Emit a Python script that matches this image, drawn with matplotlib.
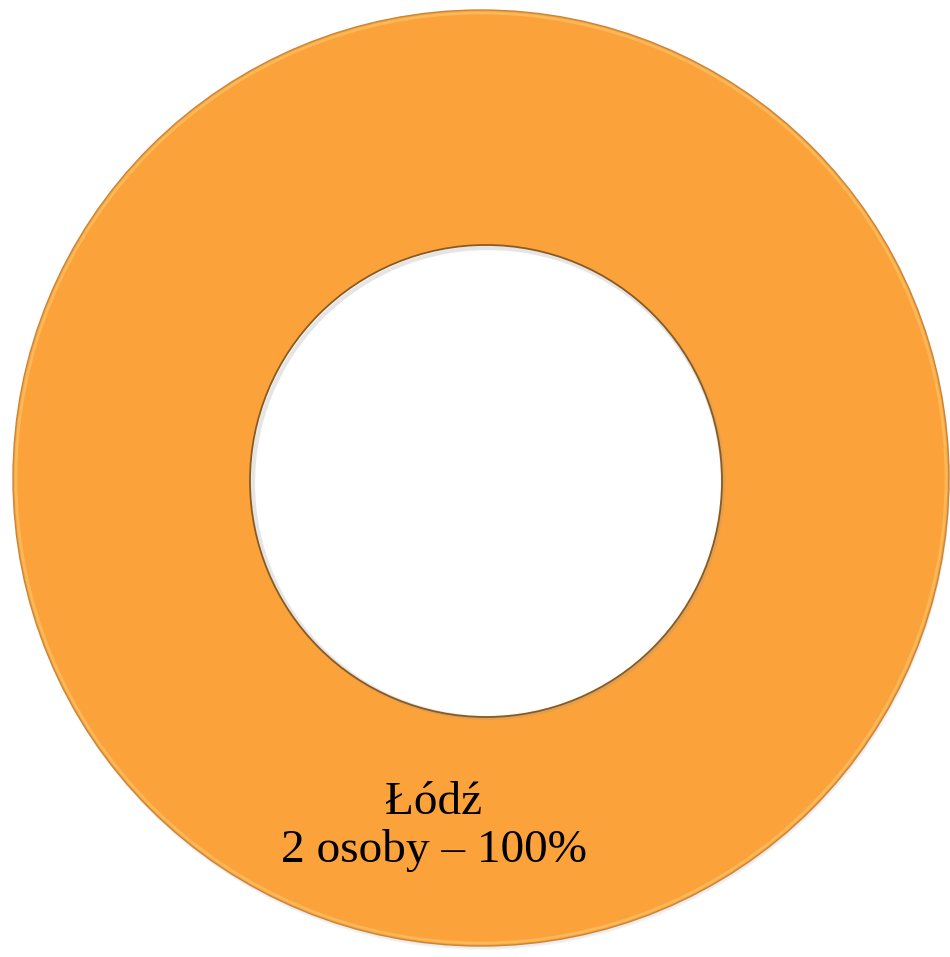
import matplotlib
matplotlib.use("Agg")
import matplotlib.pyplot as plt
from matplotlib.patches import Circle

categories = ["Łódź"]
counts = [2]
percents = [100]

W, H = 950, 957
fig = plt.figure(figsize=(W / 100, H / 100), dpi=100)
ax = fig.add_axes([0, 0, 1, 1])
ax.set_xlim(0, W)
ax.set_ylim(H, 0)
ax.set_aspect("equal")
ax.axis("off")

cx, cy, R = 481, 478, 468
r_in = 230
width = R - r_in
hx, hy, hr = 486, 481, 236  # visible hole

# soft shadow beneath
for i, a in enumerate([0.05, 0.05, 0.06]):
    off = 2 + i
    ax.pie(counts, radius=R, center=(cx + off * 0.3, cy + off), colors=["#7a7a7a"],
           wedgeprops=dict(width=width, linewidth=0, alpha=a), startangle=90)

wedges, _ = ax.pie(counts, radius=R, center=(cx, cy), colors=["#FBA23A"],
                   wedgeprops=dict(width=width, linewidth=0), startangle=90)
ax.add_patch(Circle((cx, cy), R, facecolor="none", edgecolor="#C9853A",
                    linewidth=1.0, zorder=4))

# hole with inner shadow (top-left)
ax.add_patch(Circle((hx, hy), hr, facecolor="white", edgecolor="none", zorder=3))
ax.add_patch(Circle((hx + 2, hy + 2), hr - 1, facecolor="none", edgecolor="#9a9a9a",
                    linewidth=3, alpha=0.25, zorder=3.1))
ax.add_patch(Circle((hx, hy), hr, facecolor="none", edgecolor="#8A5A20",
                    linewidth=1.3, zorder=4))
# top highlight
ax.add_patch(Circle((cx, cy), R - 3, facecolor="none", edgecolor="#FFD27A",
                    linewidth=2, alpha=0.45, zorder=4))

ax.set_xlim(0, W)
ax.set_ylim(H, 0)

label = f"{categories[0]}\n{counts[0]} osoby – {percents[0]}%"
ax.text(434, 827, label, ha="center", va="center", fontsize=34,
        family=["Liberation Serif", "DejaVu Serif"], linespacing=1.14, zorder=5)

fig.savefig("out.png", dpi=100)
